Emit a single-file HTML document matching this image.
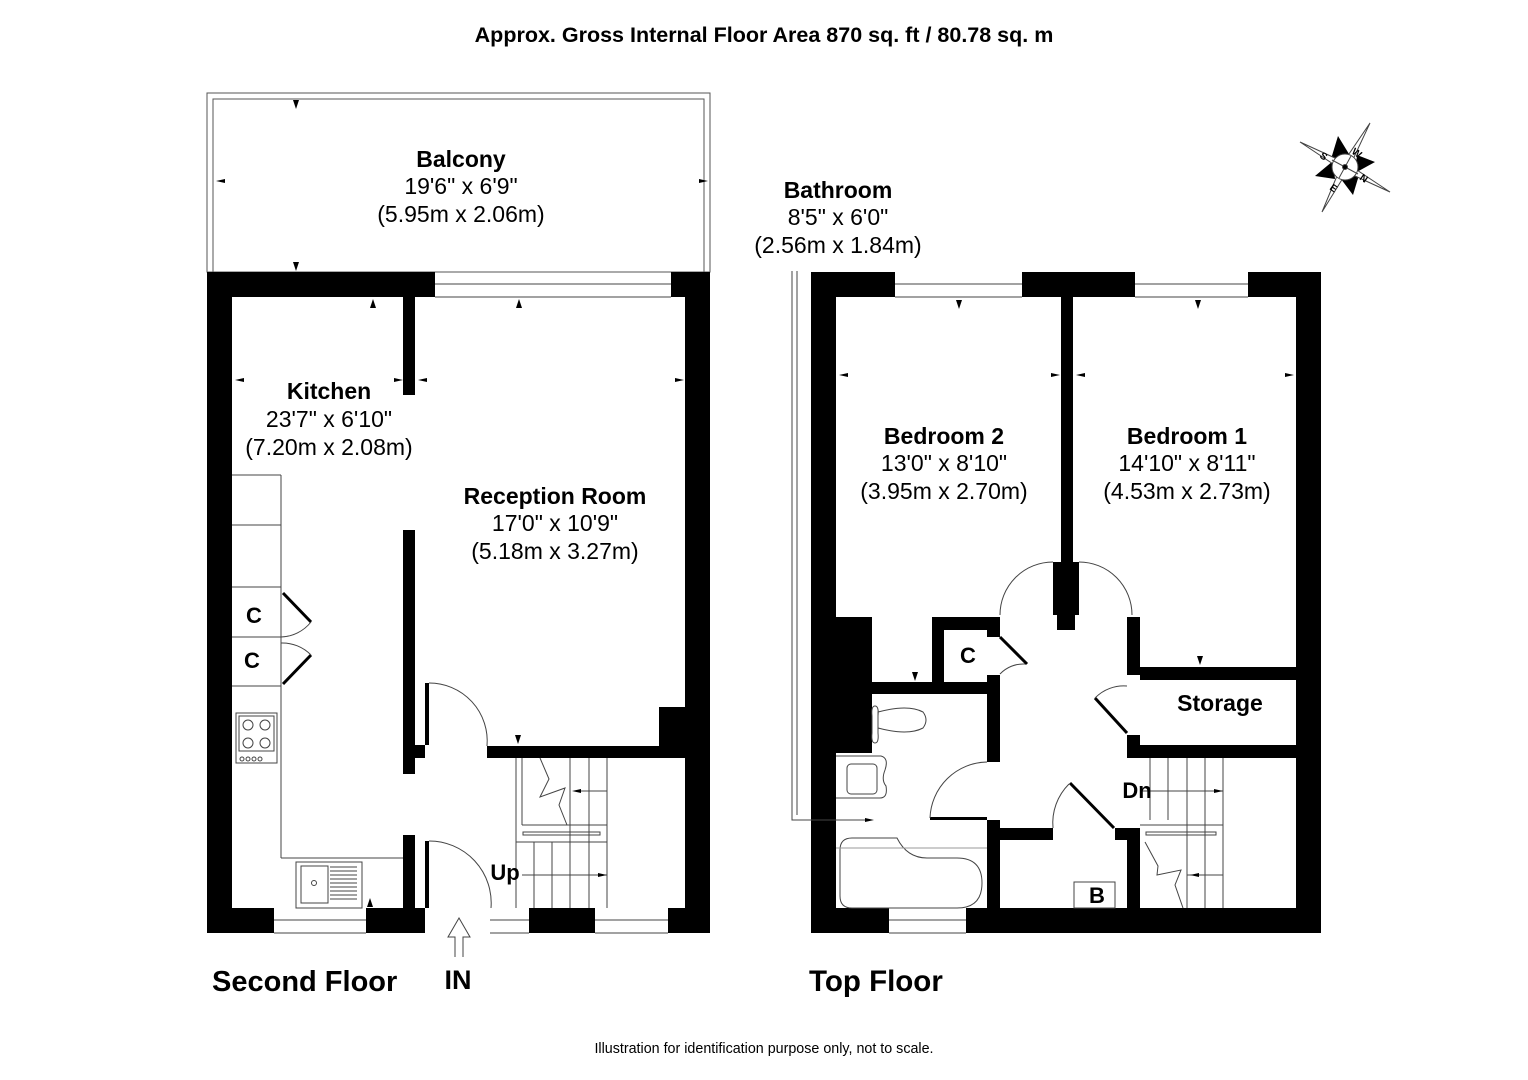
<!DOCTYPE html>
<html><head><meta charset="utf-8"><style>
html,body{margin:0;padding:0;background:#fff;}
svg{display:block;}
text{font-family:"Liberation Sans",Arial,sans-serif;fill:#000;}
.b{font-weight:bold;}
</style></head><body>
<svg width="1528" height="1080" viewBox="0 0 1528 1080" xmlns="http://www.w3.org/2000/svg">
<rect width="1528" height="1080" fill="#fff"/>
<text x="764" y="42" class="b" font-size="21.5" text-anchor="middle">Approx. Gross Internal Floor Area 870 sq. ft / 80.78 sq. m</text>

<!-- ========== SECOND FLOOR ========== -->
<g fill="none" stroke="#555" stroke-width="1">
<rect x="207" y="93" width="503" height="179"/>
<rect x="213" y="99" width="491" height="173"/>
</g>
<g fill="#000">
<rect x="207" y="272" width="25" height="661"/>
<rect x="685" y="272" width="25" height="661"/>
<rect x="207" y="272" width="228" height="25"/>
<rect x="671" y="272" width="39" height="25"/>
<rect x="207" y="908" width="67" height="25"/>
<rect x="366" y="908" width="59" height="25"/>
<rect x="529" y="908" width="66" height="25"/>
<rect x="668" y="908" width="42" height="25"/>
<rect x="403" y="297" width="12" height="98"/>
<rect x="403" y="530" width="12" height="244"/>
<rect x="403" y="835" width="12" height="73"/>
<rect x="415" y="745" width="10" height="13"/>
<rect x="425" y="683" width="4" height="62"/>
<rect x="425" y="841" width="4" height="67"/>
<rect x="487" y="746" width="204" height="12"/>
<rect x="659" y="707" width="32" height="40"/>
</g>
<g fill="none" stroke="#000" stroke-width="3">
<line x1="283" y1="593" x2="311" y2="622"/>
<line x1="311" y1="655" x2="283" y2="684"/>
<line x1="1000" y1="637" x2="1027" y2="664"/>
<line x1="1095" y1="698" x2="1127" y2="733"/>
<line x1="1070" y1="783" x2="1114" y2="828"/>
</g>
<g fill="none" stroke="#444" stroke-width="1">
<line x1="435" y1="284" x2="671" y2="284"/><line x1="435" y1="297" x2="671" y2="297"/>
<line x1="274" y1="920" x2="366" y2="920"/><line x1="274" y1="933" x2="366" y2="933"/>
<line x1="490" y1="920" x2="529" y2="920"/><line x1="490" y1="933" x2="529" y2="933"/>
<line x1="595" y1="920" x2="668" y2="920"/><line x1="595" y1="933" x2="668" y2="933"/>
<path d="M429 683 A58 58 0 0 1 487 746"/>
<path d="M429 841 A62 62 0 0 1 491 908"/>
<line x1="232" y1="475" x2="281" y2="475"/>
<line x1="281" y1="475" x2="281" y2="858"/>
<line x1="281" y1="858" x2="403" y2="858"/>
<line x1="232" y1="525" x2="281" y2="525"/>
<line x1="232" y1="587" x2="281" y2="587"/>
<line x1="232" y1="637" x2="281" y2="637"/>
<line x1="232" y1="686" x2="281" y2="686"/>
<path d="M281 637 A40 40 0 0 0 311 622"/>
<path d="M281 643 A40 40 0 0 1 311 655"/>
<rect x="236" y="713" width="41" height="50"/>
<rect x="239" y="716" width="35" height="35"/>
<circle cx="248" cy="725" r="5"/><circle cx="265" cy="725" r="5"/>
<circle cx="248" cy="743" r="5"/><circle cx="265" cy="743" r="5"/>
<circle cx="242" cy="759" r="2"/><circle cx="248" cy="759" r="2"/><circle cx="254" cy="759" r="2"/><circle cx="260" cy="759" r="2"/>
<rect x="296" y="862" width="66" height="46"/>
<rect x="301" y="866" width="27" height="37"/>
<circle cx="314" cy="883" r="2.5"/>
<line x1="330" y1="867" x2="357" y2="867"/><line x1="330" y1="871" x2="357" y2="871"/><line x1="330" y1="875" x2="357" y2="875"/>
<line x1="330" y1="879" x2="357" y2="879"/><line x1="330" y1="883" x2="357" y2="883"/><line x1="330" y1="887" x2="357" y2="887"/>
<line x1="330" y1="891" x2="357" y2="891"/><line x1="330" y1="895" x2="357" y2="895"/><line x1="330" y1="899" x2="357" y2="899"/>
<line x1="516" y1="758" x2="516" y2="908"/>
<line x1="522" y1="758" x2="522" y2="825"/>
<line x1="522" y1="825" x2="607" y2="825"/>
<rect x="523" y="832" width="77" height="3"/>
<line x1="534" y1="842" x2="534" y2="908"/>
<line x1="552" y1="842" x2="552" y2="908"/>
<line x1="570" y1="758" x2="570" y2="908"/>
<line x1="589" y1="758" x2="589" y2="908"/>
<line x1="607" y1="758" x2="607" y2="908"/>
<line x1="516" y1="842" x2="607" y2="842"/>
<line x1="576" y1="791" x2="607" y2="791"/>
<line x1="522" y1="875" x2="607" y2="875"/>
<path d="M540 758 L549 779 L540 797 L565 788 L559 805 L567 825"/>
<path d="M455 957 L455 937 L448 937 L459 918 L470 937 L463 937 L463 957"/>
</g>
<g fill="#000">
<path d="M293 100 l3 9 l3 -9z"/>
<path d="M293 262 l3 9 l3 -9z"/>
<path d="M216 181 l9 -2 v4z"/><path d="M708 181 l-9 -2 v4z"/>
<path d="M370 308 l3 -9 l3 9z"/>
<path d="M516 308 l3 -9 l3 9z"/>
<path d="M235 380 l9 -2 v4z"/><path d="M403 380 l-9 -2 v4z"/>
<path d="M418 380 l9 -2 v4z"/><path d="M684 380 l-9 -2 v4z"/>
<path d="M367 907 l3 -9 l3 9z"/>
<path d="M515 735 l3 9 l3 -9z"/>
<path d="M572 791 l9 -2 v4z"/><path d="M607 875 l-9 -2 v4z"/>
</g>
<text x="461" y="167" class="b" font-size="23" text-anchor="middle">Balcony</text>
<text x="461" y="194" font-size="23" text-anchor="middle">19'6" x 6'9"</text>
<text x="461" y="222" font-size="23" text-anchor="middle">(5.95m x 2.06m)</text>
<text x="329" y="399" class="b" font-size="23" text-anchor="middle">Kitchen</text>
<text x="329" y="427" font-size="23" text-anchor="middle">23'7" x 6'10"</text>
<text x="329" y="455" font-size="23" text-anchor="middle">(7.20m x 2.08m)</text>
<text x="555" y="504" class="b" font-size="23" text-anchor="middle">Reception Room</text>
<text x="555" y="531" font-size="23" text-anchor="middle">17'0" x 10'9"</text>
<text x="555" y="559" font-size="23" text-anchor="middle">(5.18m x 3.27m)</text>
<text x="254" y="623" class="b" font-size="22" text-anchor="middle">C</text>
<text x="252" y="668" class="b" font-size="22" text-anchor="middle">C</text>
<text x="505" y="880" class="b" font-size="22" text-anchor="middle">Up</text>
<text x="212" y="991" class="b" font-size="29">Second Floor</text>
<text x="458" y="989" class="b" font-size="27" text-anchor="middle">IN</text>

<!-- ========== TOP FLOOR ========== -->
<g fill="#000">
<rect x="811" y="272" width="25" height="661"/>
<rect x="1296" y="272" width="25" height="661"/>
<rect x="811" y="272" width="84" height="25"/>
<rect x="1022" y="272" width="113" height="25"/>
<rect x="1248" y="272" width="73" height="25"/>
<rect x="811" y="908" width="78" height="25"/>
<rect x="966" y="908" width="355" height="25"/>
<rect x="836" y="617" width="36" height="136"/>
<rect x="872" y="682" width="128" height="12"/>
<rect x="932" y="617" width="12" height="77"/>
<rect x="932" y="617" width="68" height="13"/>
<rect x="987" y="630" width="13" height="7"/>
<rect x="987" y="675" width="13" height="87"/>
<rect x="987" y="820" width="13" height="88"/>
<rect x="930" y="817" width="57" height="3"/>
<rect x="1000" y="828" width="53" height="12"/>
<rect x="1115" y="828" width="25" height="12"/>
<rect x="1127" y="828" width="13" height="80"/>
<rect x="1127" y="617" width="13" height="58"/>
<rect x="1140" y="667" width="156" height="13"/>
<rect x="1127" y="735" width="13" height="23"/>
<rect x="1127" y="745" width="169" height="13"/>
<rect x="1061" y="297" width="12" height="265"/>
<rect x="1057" y="562" width="18" height="68"/>
<rect x="1053" y="562" width="4" height="53"/>
<rect x="1075" y="562" width="4" height="53"/>
</g>
<g fill="none" stroke="#444" stroke-width="1">
<line x1="895" y1="284" x2="1022" y2="284"/><line x1="895" y1="297" x2="1022" y2="297"/>
<line x1="1135" y1="284" x2="1248" y2="284"/><line x1="1135" y1="297" x2="1248" y2="297"/>
<line x1="889" y1="920" x2="966" y2="920"/><line x1="889" y1="933" x2="966" y2="933"/>
<polyline points="792,271 792,820 836,820"/>
<polyline points="797,271 797,815"/>
<path d="M1053 562 A53 53 0 0 0 1000 615"/>
<path d="M1079 562 A53 53 0 0 1 1132 615"/>
<path d="M1000 674 A32 32 0 0 1 1025 664"/>
<path d="M1127 686 A40 40 0 0 0 1095 698"/>
<path d="M987 762 A58 58 0 0 0 930 818"/>
<path d="M1069 784 A55 55 0 0 0 1053 828"/>
<path d="M875 706 q-4 0 -3 10 l0 17 q-1 10 3 10 q4 0 3 -10 l0 -17 q1 -10 -3 -10z"/>
<path d="M878 712 q30 -8 45 0 q6 8 0 16 q-15 8 -45 0z"/>
<path d="M836 756 h45 q8 2 4 14 q-4 10 1 16 q2 12 -6 12 h-44"/>
<rect x="847" y="764" width="30" height="30" rx="4"/>
<line x1="836" y1="820" x2="866" y2="820"/>
<path d="M840 850 q0 -12 12 -12 h45 q10 20 30 20 h30 q25 0 25 25 q0 25 -25 25 h-105 q-12 0 -12 -12z"/>
<line x1="836" y1="848" x2="987" y2="848" stroke="#999"/>
<rect x="1074" y="882" width="41" height="26"/>
<line x1="1150" y1="758" x2="1150" y2="820"/>
<line x1="1168" y1="758" x2="1168" y2="820"/>
<line x1="1187" y1="758" x2="1187" y2="908"/>
<line x1="1205" y1="758" x2="1205" y2="908"/>
<line x1="1223" y1="758" x2="1223" y2="908"/>
<line x1="1140" y1="791" x2="1223" y2="791"/>
<line x1="1140" y1="825" x2="1223" y2="825"/>
<rect x="1146" y="832" width="70" height="3"/>
<line x1="1187" y1="875" x2="1223" y2="875"/>
<path d="M1145 842 L1158 866 L1157 875 L1181 870 L1175 885 L1183 908"/>
</g>
<!-- compass -->
<g transform="translate(1345 167)" stroke="#444" stroke-width="1">
<polygon points="-7,-31 -14,-8 4,-13" fill="#000" stroke="none"/>
<polygon points="30,-5 12,-12 10,6" fill="#000" stroke="none"/>
<polygon points="-30,9 -12,-6 -10,12" fill="#000" stroke="none"/>
<polygon points="8,28 -4,12 14,8" fill="#000" stroke="none"/>
<polygon points="-45,-25 -2,3.5 45,25 2,-3.5" fill="#fff"/>
<polygon points="25,-44 3.5,2 -23,45 -3.5,-2" fill="#fff"/>
<circle r="13" fill="#fff"/>
<line x1="-13" y1="-7" x2="13" y2="7"/>
<line x1="6" y1="-11" x2="-6" y2="11"/>
<circle r="2.5" fill="#000"/>
</g>
<g transform="translate(1345 167)" class="b">
<text x="-26" y="-10" transform="rotate(35 -26 -10)" font-size="10">S</text>
<text x="6" y="-14" transform="rotate(35 6 -14)" font-size="10">W</text>
<text x="-16" y="22" transform="rotate(35 -16 22)" font-size="10">E</text>
<text x="14" y="12" transform="rotate(35 14 12)" font-size="10">N</text>
</g>
<g fill="#000">
<path d="M956 300 l3 9 l3 -9z"/>
<path d="M1195 300 l3 9 l3 -9z"/>
<path d="M839 375 l9 -2 v4z"/><path d="M1060 375 l-9 -2 v4z"/>
<path d="M1076 375 l9 -2 v4z"/><path d="M1294 375 l-9 -2 v4z"/>
<path d="M912 672 l3 9 l3 -9z"/>
<path d="M1197 656 l3 9 l3 -9z"/>
<path d="M866 820 l9 -2 v4z" transform="rotate(180 870 820)"/>
<path d="M1223 791 l-9 -2 v4z"/><path d="M1190 875 l9 -2 v4z"/>
</g>
<text x="838" y="198" class="b" font-size="23" text-anchor="middle">Bathroom</text>
<text x="838" y="225" font-size="23" text-anchor="middle">8'5" x 6'0"</text>
<text x="838" y="253" font-size="23" text-anchor="middle">(2.56m x 1.84m)</text>
<text x="944" y="444" class="b" font-size="23" text-anchor="middle">Bedroom 2</text>
<text x="944" y="471" font-size="23" text-anchor="middle">13'0" x 8'10"</text>
<text x="944" y="499" font-size="23" text-anchor="middle">(3.95m x 2.70m)</text>
<text x="1187" y="444" class="b" font-size="23" text-anchor="middle">Bedroom 1</text>
<text x="1187" y="471" font-size="23" text-anchor="middle">14'10" x 8'11"</text>
<text x="1187" y="499" font-size="23" text-anchor="middle">(4.53m x 2.73m)</text>
<text x="968" y="663" class="b" font-size="22" text-anchor="middle">C</text>
<text x="1220" y="711" class="b" font-size="23" text-anchor="middle">Storage</text>
<text x="1137" y="798" class="b" font-size="22" text-anchor="middle">Dn</text>
<text x="1097" y="903" class="b" font-size="22" text-anchor="middle">B</text>
<text x="809" y="991" class="b" font-size="29.5">Top Floor</text>
<text x="764" y="1053" font-size="14.3" text-anchor="middle">Illustration for identification purpose only, not to scale.</text>
</svg>
</body></html>
